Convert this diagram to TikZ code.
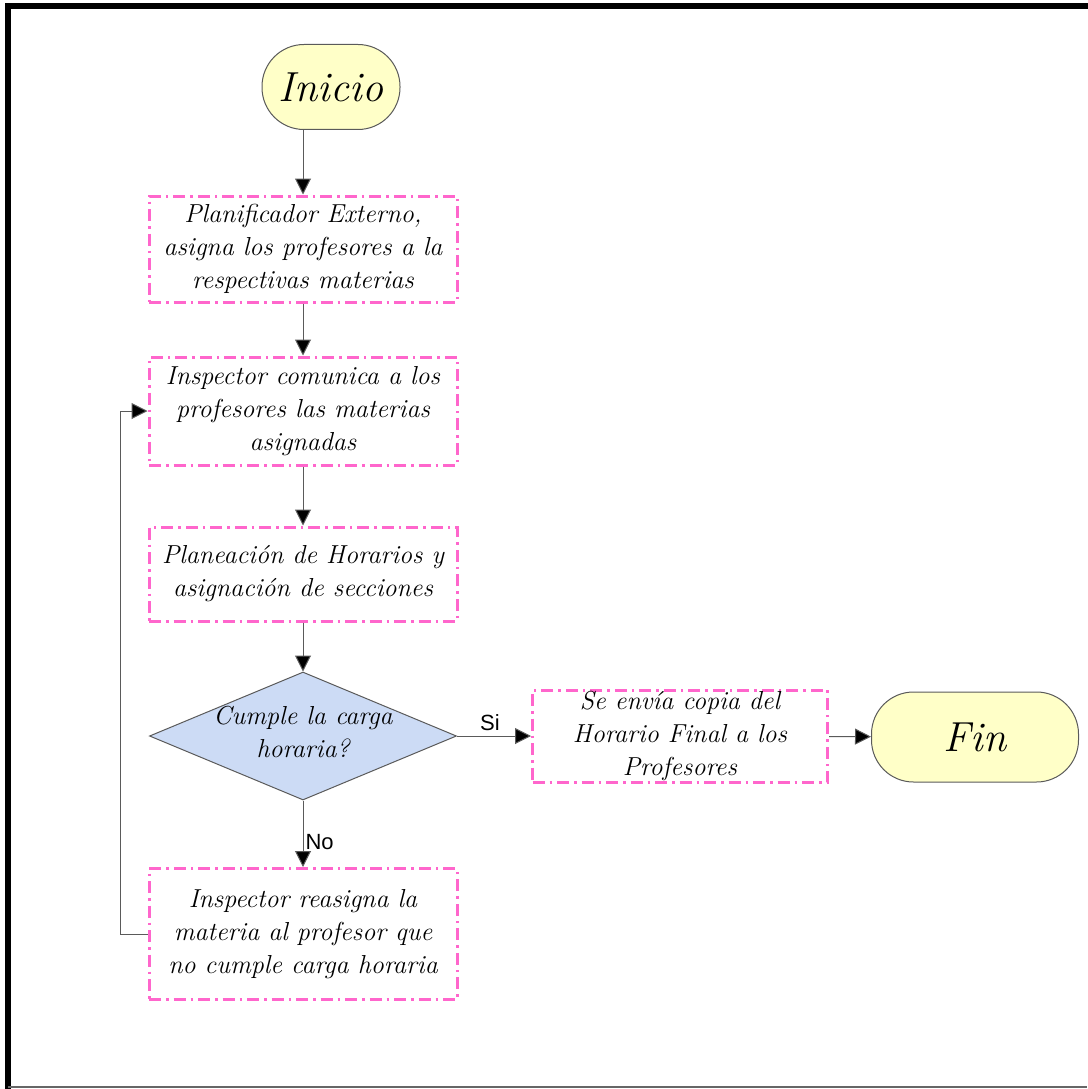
\documentclass[tikz,border=0pt]{standalone}
\usepackage{fontspec}
\newfontfamily\labelfont{Liberation Sans}
\usetikzlibrary{shapes.geometric,arrows.meta}
\definecolor{boxpink}{RGB}{255,102,204}
\definecolor{termfill}{RGB}{255,255,200}
\definecolor{decfill}{RGB}{204,219,245}
\definecolor{linegray}{RGB}{90,90,90}
\tikzset{
  boxtext/.style={font=\fontsize{26}{33}\selectfont\itshape},
  procbox/.style={boxtext, draw=boxpink, line width=3pt,
    dash pattern=on 12pt off 5pt on 2.5pt off 5pt,
    minimum width=308pt, inner sep=0pt, align=center},
  terminal/.style={draw=linegray, line width=1pt, fill=termfill,
    rounded corners=42pt, inner sep=0pt,
    font=\fontsize{42}{46}\selectfont\itshape},
  decision/.style={diamond, draw=linegray, line width=1pt, fill=decfill,
    inner sep=0pt, minimum width=307pt, minimum height=128pt},
  flow/.style={draw=linegray, line width=1pt,
    -{Triangle[length=16pt,width=16pt,fill=black]}},
  branch/.style={font=\labelfont\fontsize{22}{24}\selectfont}
}
\begin{document}
\begin{tikzpicture}[x=1pt,y=-1pt]
\useasboundingbox (0,0) rectangle (1087,1089);
% outer frame
\draw[line width=6pt] (8,1089) -- (8,6) -- (1090,6);
\draw[line width=1.5pt, black!60] (8,1087) -- (1087,1087);

% nodes
\node[terminal, minimum width=138pt, minimum height=85pt] (inicio) at (331,87) {Inicio};
\node[procbox, minimum height=106pt] (plan) at (303,249)
  {Planificador Externo,\\ asigna los profesores a la\\ respectivas materias};
\node[procbox, minimum height=108pt] (comunica) at (303,411)
  {Inspector comunica a los\\ profesores las materias\\ asignadas};
\node[procbox, minimum height=94pt] (horarios) at (303,574)
  {Planeación de Horarios y\\ asignación de secciones};
\node[decision] (carga) at (303,736) {};
\node[boxtext, align=center] (cargatxt) at (303,732)
  {Cumple la carga\\ horaria?};
\node[procbox, minimum height=131pt] (reasigna) at (303,934)
  {Inspector reasigna la\\ materia al profesor que\\ no cumple carga horaria};
\node[procbox, minimum width=295pt, minimum height=92pt] (envia) at (680,736)
  {Se envía copia del\\ Horario Final a los\\ Profesores};
\node[terminal, minimum width=207pt, minimum height=90pt] (fin) at (975,737) {Fin};

% connectors
\draw[flow] (inicio.south -| plan.north) -- (plan);
\draw[flow] (plan) -- (comunica);
\draw[flow] (comunica) -- (horarios);
\draw[flow] (horarios) -- (carga);
\draw[flow] (carga) -- node[branch, pos=0.62, anchor=west, inner sep=2pt] (no) {No} (reasigna);
\draw[flow] (carga) -- node[branch, pos=0.5, anchor=south, inner sep=5pt, xshift=-4pt] (si) {Si} (envia);
\draw[flow] (envia) -- (fin);
\coordinate (loop) at (120,934);
\draw[flow] (reasigna.west) -- (loop) |- (comunica.west);
\end{tikzpicture}
\end{document}
